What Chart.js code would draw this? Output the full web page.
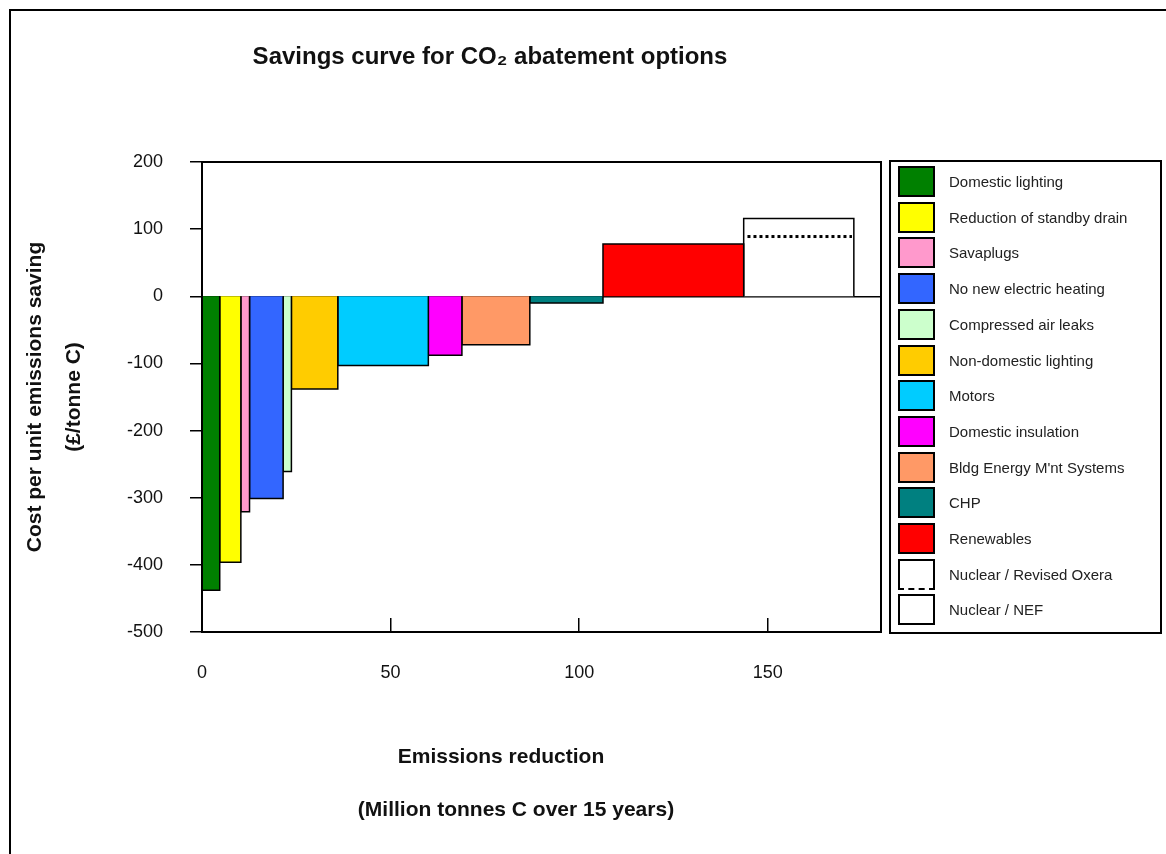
<!DOCTYPE html>
<html>
<head>
<meta charset="utf-8">
<script src="https://cdn.jsdelivr.net/npm/chart.js@4.4.0/dist/chart.umd.min.js"></script>
<style>
  html, body { margin: 0; padding: 0; background: #fff; }
  #wrap { position: relative; width: 1166px; height: 854px; overflow: hidden; }
  #legend {
    position: absolute; left: 889px; top: 160px; width: 269px; height: 470px;
    border: 2px solid #000; font-family: "Liberation Sans", Arial, sans-serif;
    font-size: 15px; color: #222;
  }
  .item { position: absolute; left: 7px; height: 31px; display: flex; align-items: center; white-space: nowrap; }
  .sw { box-sizing: border-box; width: 37px; height: 31px; border: 2px solid #000; margin-right: 14px; }
</style>
</head>
<body>
<div id="wrap">
  <canvas id="mac" width="1166" height="854"></canvas>
  <div id="legend"></div>
</div>
<script>
// abatement options, in the order they sit along the curve
const measures = [
  "Domestic lighting", "Reduction of standby drain", "Savaplugs", "No new electric heating",
  "Compressed air leaks", "Non-domestic lighting", "Motors", "Domestic insulation",
  "Bldg Energy M'nt Systems", "CHP", "Renewables", "Nuclear / NEF"
];
// emissions reduction of each option (Million tonnes C over 15 years) = bar width
const reductions = [4.7, 5.6, 2.3, 8.9, 2.2, 12.3, 24.0, 8.9, 18.0, 19.4, 37.3, 29.2];
// cost per unit emissions saving (£/tonne C) = bar height
const costs = [-438, -396, -321, -301, -261, -138, -103, -88, -72, -10, 78, 116];
const colours = [
  "#008000", "#FFFF00", "#FF99CC", "#3366FF", "#CCFFCC", "#FFCC00",
  "#00CCFF", "#FF00FF", "#FF9966", "#008080", "#FF0000", "#FFFFFF"
];
// alternative nuclear estimate, same tonnage as Nuclear / NEF
const oxeraLabel = "Nuclear / Revised Oxera";
const oxeraCost = 89;

const xTicks = [0, 50, 100, 150];
const yTicks = [-500, -400, -300, -200, -100, 0, 100, 200];

const FONT = '"Liberation Sans", Arial, sans-serif';
Chart.defaults.font.family = FONT;
Chart.defaults.color = "#111";

// build one closed step (rectangle) per option from the cumulative tonnage
let edge = 0;
const spans = reductions.map((w) => {
  const s = { from: edge, to: edge + w };
  edge += w;
  return s;
});

const datasets = measures.map((name, i) => ({
  label: name,
  data: [
    { x: spans[i].from, y: 0 },
    { x: spans[i].from, y: costs[i] },
    { x: spans[i].to, y: costs[i] },
    { x: spans[i].to, y: 0 },
  ],
  backgroundColor: colours[i],
  borderColor: "#000",
  borderWidth: 1.5,
  fill: "origin",
}));

const nef = spans[spans.length - 1];
// dotted line drawn above the NEF box (lower index is painted last)
datasets.splice(measures.length - 1, 0, {
  label: oxeraLabel,
  data: [
    { x: nef.from + 1, y: oxeraCost },
    { x: nef.to - 0.5, y: oxeraCost },
  ],
  borderColor: "#000",
  borderWidth: 3,
  borderDash: [3, 3],
  fill: false,
});

// page frame, plot box and the free-standing titles
const framePlugin = {
  id: "frame",
  beforeDraw(chart) {
    const ctx = chart.ctx;
    ctx.save();
    ctx.fillStyle = "#fff";
    ctx.fillRect(0, 0, chart.width, chart.height);
    ctx.strokeStyle = "#000";
    ctx.lineWidth = 2;
    ctx.beginPath();
    ctx.moveTo(10, chart.height);
    ctx.lineTo(10, 10);
    ctx.lineTo(chart.width, 10);
    ctx.stroke();
    ctx.restore();
  },
  afterDraw(chart) {
    const { ctx, chartArea: a } = chart;
    ctx.save();
    ctx.strokeStyle = "#000";
    ctx.lineWidth = 2;
    ctx.strokeRect(a.left, a.top, a.right - a.left, a.bottom - a.top);

    ctx.fillStyle = "#111";
    ctx.textAlign = "center";
    ctx.textBaseline = "middle";
    ctx.font = "bold 24px " + FONT;
    ctx.fillText("Savings curve for CO\u2082 abatement options", 490, 57);
    ctx.font = "bold 21px " + FONT;
    ctx.fillText("Emissions reduction", 501, 757);
    ctx.fillText("(Million tonnes C over 15 years)", 516, 810);
    ctx.restore();
  },
};

new Chart(document.getElementById("mac"), {
  type: "line",
  data: { datasets },
  options: {
    responsive: false,
    animation: false,
    events: [],
    layout: { padding: { left: 10, top: 162, right: 285, bottom: 0 } },
    elements: { point: { radius: 0 }, line: { tension: 0, borderJoinStyle: "miter" } },
    plugins: { legend: { display: false }, tooltip: { enabled: false } },
    scales: {
      x: {
        type: "linear",
        min: 0,
        max: 180,
        afterBuildTicks: (s) => { s.ticks = xTicks.map((v) => ({ value: v })); },
        ticks: { padding: 44, font: { size: 18 }, color: "#111" },
        grid: { drawOnChartArea: false, tickLength: -14, color: "#000", lineWidth: 1.5 },
        border: { color: "#000", width: 2 },
        afterFit: (s) => { s.height = 854 - 632; },
      },
      y: {
        min: -500,
        max: 200,
        z: 1,
        afterBuildTicks: (s) => { s.ticks = yTicks.map((v) => ({ value: v })); },
        ticks: { padding: 27, font: { size: 18 }, color: "#111" },
        grid: {
          color: (c) => (c.tick && c.tick.value === 0 ? "#000" : "rgba(0,0,0,0)"),
          tickColor: "#000",
          tickLength: 12,
          lineWidth: 1.5,
        },
        border: { color: "#000", width: 2 },
        title: {
          display: true,
          text: ["Cost per unit emissions saving", "(\u00A3/tonne C)"],
          font: { size: 21, weight: "bold", lineHeight: 1.86 },
          color: "#111",
          padding: { top: 6, bottom: 0 },
        },
        afterFit: (s) => { s.width = 202 - 10; },
      },
    },
  },
  plugins: [framePlugin],
});

// legend box on the right, same order as the original key
const legendRows = measures.slice(0, -1).map((m, i) => ({ name: m, colour: colours[i] }));
legendRows.push({ name: oxeraLabel, colour: "#fff", dashed: true });
legendRows.push({ name: measures[measures.length - 1], colour: "#fff" });

const legendEl = document.getElementById("legend");
legendRows.forEach((row, i) => {
  const item = document.createElement("div");
  item.className = "item";
  item.style.top = (4 + i * 35.7) + "px";
  const sw = document.createElement("span");
  sw.className = "sw";
  sw.style.background = row.colour;
  if (row.dashed) sw.style.borderBottomStyle = "dashed";
  item.appendChild(sw);
  item.appendChild(document.createTextNode(row.name));
  legendEl.appendChild(item);
});
</script>
</body>
</html>
